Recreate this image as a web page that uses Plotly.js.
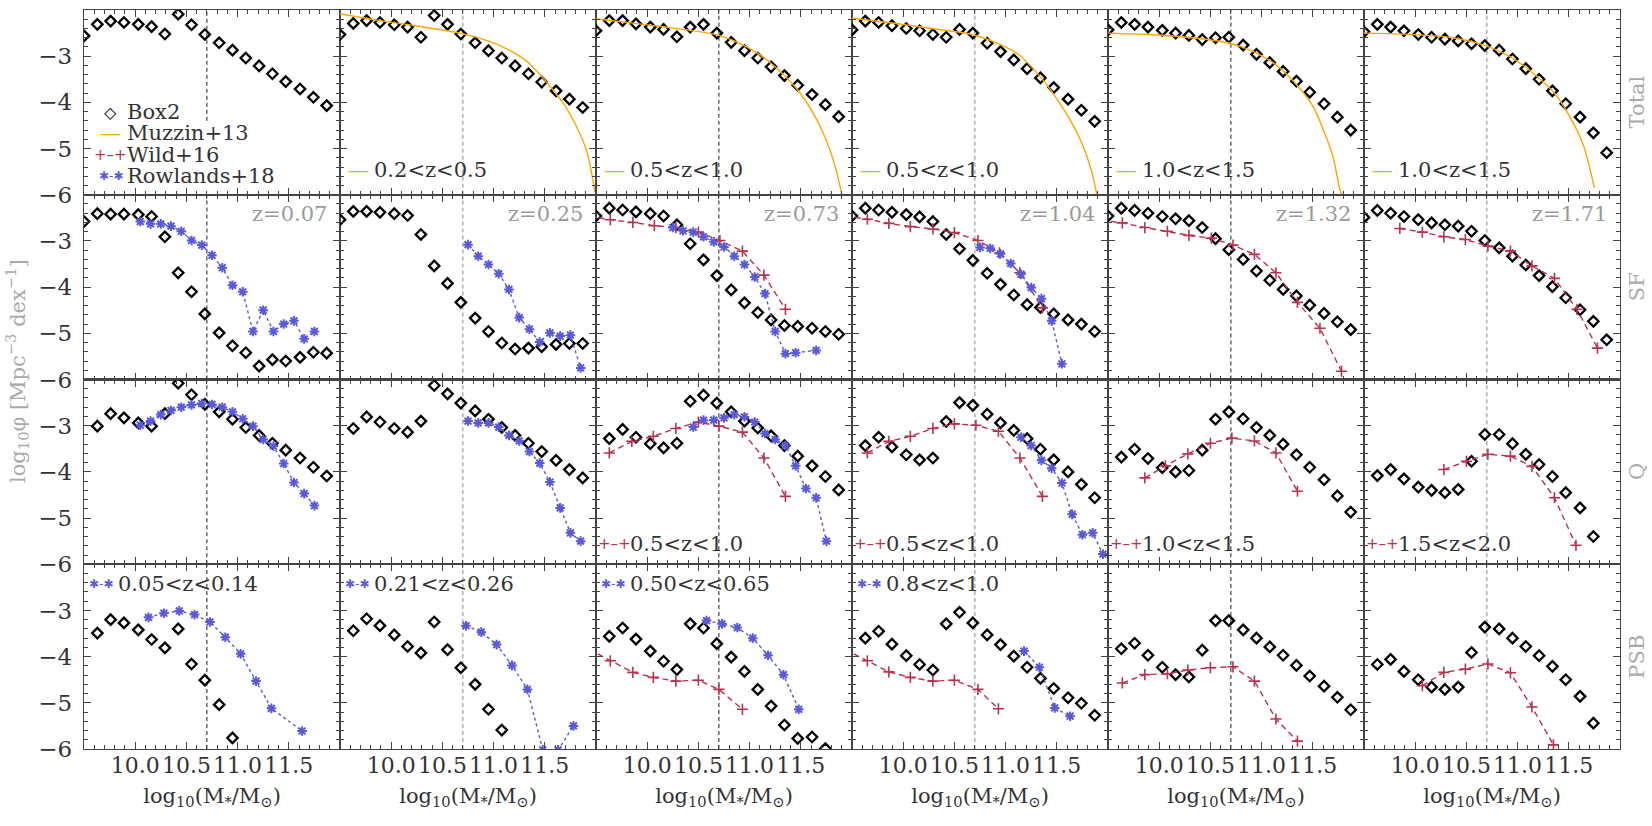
<!DOCTYPE html>
<html><head><meta charset="utf-8">
<script src="https://cdn.plot.ly/plotly-3.0.1.min.js"></script>
<style>html,body{margin:0;padding:0;background:#fff}#chart{width:1652px;height:826px}</style>
</head><body><div id="chart"></div><script>
// ---------------- data ----------------
const massBins = [9.50, 9.63, 9.76, 9.89, 10.03, 10.16, 10.29, 10.42, 10.55, 10.68, 10.82, 10.95, 11.08, 11.21, 11.34, 11.47, 11.61, 11.74, 11.87];
const massLimit = 10.7;
const xTickVals = [10.0, 10.5, 11.0, 11.5];
const xTickText = ['10.0', '10.5', '11.0', '11.5'];
const yTickVals = [-6, -5, -4, -3];
const rowLabels = ['Total', 'SF', 'Q', 'PSB'];
const snapshotLabels = ['z=0.07', 'z=0.25', 'z=0.73', 'z=1.04', 'z=1.32', 'z=1.71'];
const muzzinRanges = ['', '0.2<z<0.5', '0.5<z<1.0', '0.5<z<1.0', '1.0<z<1.5', '1.0<z<1.5'];
const wildRanges = ['', '', '0.5<z<1.0', '0.5<z<1.0', '1.0<z<1.5', '1.5<z<2.0'];
const rowlandsRanges = ['0.05<z<0.14', '0.21<z<0.26', '0.50<z<0.65', '0.8<z<1.0', '', ''];
const seriesNames = ['Box2', 'Muzzin+13', 'Wild+16', 'Rowlands+18'];

// Box2 (one list per column, values on massBins)
const box2Total = [
  [-2.56,-2.31,-2.24,-2.27,-2.31,-2.36,-2.52,-2.09,-2.32,-2.53,-2.71,-2.87,-3.04,-3.21,-3.38,-3.55,-3.71,-3.89,-4.07],
  [-2.53,-2.29,-2.23,-2.27,-2.32,-2.37,-2.59,-2.12,-2.31,-2.52,-2.71,-2.88,-3.04,-3.21,-3.38,-3.56,-3.75,-3.93,-4.11],
  [-2.45,-2.23,-2.23,-2.30,-2.37,-2.42,-2.58,-2.37,-2.31,-2.50,-2.70,-2.88,-3.04,-3.23,-3.42,-3.63,-3.83,-4.05,-4.31],
  [-2.43,-2.24,-2.27,-2.34,-2.40,-2.45,-2.53,-2.59,-2.42,-2.50,-2.72,-2.90,-3.08,-3.27,-3.47,-3.68,-3.93,-4.17,-4.41],
  [-2.43,-2.27,-2.31,-2.37,-2.44,-2.50,-2.55,-2.64,-2.60,-2.59,-2.76,-2.96,-3.14,-3.33,-3.54,-3.78,-4.03,-4.32,-4.60],
  [-2.47,-2.31,-2.37,-2.45,-2.53,-2.59,-2.63,-2.67,-2.73,-2.77,-2.87,-3.06,-3.27,-3.50,-3.75,-4.03,-4.32,-4.66,-5.09]
];
const box2SF = [
  [-2.58,-2.41,-2.42,-2.42,-2.43,-2.47,-2.91,-3.69,-4.10,-4.58,-4.99,-5.27,-5.42,-5.71,-5.57,-5.60,-5.52,-5.41,-5.43],
  [-2.54,-2.36,-2.36,-2.38,-2.41,-2.45,-2.86,-3.54,-3.92,-4.33,-4.67,-4.96,-5.21,-5.34,-5.32,-5.29,-5.24,-5.22,-5.22],
  [-2.46,-2.29,-2.33,-2.37,-2.41,-2.46,-2.65,-3.06,-3.41,-3.75,-4.06,-4.34,-4.55,-4.71,-4.83,-4.85,-4.89,-4.96,-5.02],
  [-2.46,-2.29,-2.33,-2.38,-2.43,-2.48,-2.58,-2.86,-3.17,-3.42,-3.70,-3.94,-4.17,-4.38,-4.44,-4.58,-4.71,-4.80,-4.96],
  [-2.46,-2.29,-2.34,-2.40,-2.47,-2.52,-2.56,-2.71,-2.95,-3.19,-3.40,-3.65,-3.85,-4.05,-4.19,-4.39,-4.57,-4.75,-4.92],
  [-2.49,-2.34,-2.40,-2.47,-2.54,-2.61,-2.65,-2.68,-2.79,-2.99,-3.15,-3.33,-3.52,-3.75,-3.99,-4.23,-4.49,-4.74,-5.14]
];
const box2Q = [
  [null,-3.01,-2.74,-2.83,-2.94,-3.01,-2.74,-2.08,-2.33,-2.54,-2.70,-2.86,-3.04,-3.21,-3.38,-3.53,-3.70,-3.90,-4.09],
  [null,-3.06,-2.81,-2.92,-3.06,-3.14,-2.90,-2.13,-2.31,-2.51,-2.68,-2.86,-3.04,-3.21,-3.38,-3.56,-3.75,-3.95,-4.13],
  [null,-3.28,-3.08,-3.25,-3.39,-3.48,-3.38,-2.47,-2.34,-2.51,-2.70,-2.90,-3.05,-3.22,-3.43,-3.66,-3.87,-4.10,-4.39],
  [null,-3.43,-3.25,-3.46,-3.63,-3.74,-3.70,-2.91,-2.50,-2.56,-2.75,-2.94,-3.10,-3.28,-3.51,-3.74,-4.00,-4.27,-4.56],
  [null,-3.68,-3.51,-3.71,-3.91,-4.00,-3.97,-3.53,-2.86,-2.70,-2.85,-3.04,-3.21,-3.40,-3.63,-3.90,-4.17,-4.52,-4.87],
  [null,-4.08,-3.95,-4.15,-4.33,-4.40,-4.45,-4.38,-3.77,-3.19,-3.19,-3.39,-3.62,-3.84,-4.10,-4.45,-4.78,-5.40,null]
];
const box2PSB = [
  [null,-3.49,-3.20,-3.27,-3.42,-3.63,-3.81,-3.40,-4.16,-4.51,-5.04,-5.76,null,null,null,null,null,null,null],
  [null,-3.44,-3.18,-3.33,-3.53,-3.78,-3.92,-3.25,-3.85,-4.24,-4.60,-5.14,-5.59,null,null,null,null,null,null],
  [null,-3.56,-3.38,-3.62,-3.88,-4.10,-4.28,-3.29,-3.38,-3.72,-4.01,-4.32,-4.71,-5.07,-5.48,-5.77,-5.74,-5.99,null],
  [null,-3.60,-3.45,-3.73,-3.98,-4.17,-4.29,-3.29,-3.04,-3.27,-3.53,-3.74,-3.99,-4.23,-4.47,-4.69,-4.89,-5.01,-5.27],
  [null,-3.83,-3.71,-3.97,-4.23,-4.39,-4.44,-3.86,-3.22,-3.22,-3.42,-3.60,-3.79,-3.97,-4.19,-4.42,-4.64,-4.88,-5.15],
  [null,-4.17,-4.06,-4.32,-4.50,-4.66,-4.71,-4.66,-3.91,-3.36,-3.40,-3.60,-3.78,-3.98,-4.21,-4.50,-4.86,-5.44,null]
];

// Muzzin+13 total mass functions (row "Total")
const muzzinX = [
  [],
  [9.50, 9.86, 10.23, 10.67, 10.96, 11.18, 11.33, 11.47, 11.58, 11.69, 11.80, 11.91, 11.99],
  [9.50, 9.88, 10.21, 10.54, 10.70, 10.86, 11.02, 11.19, 11.35, 11.48, 11.61, 11.74, 11.84, 11.90],
  [9.50, 9.99, 10.31, 10.67, 10.96, 11.13, 11.32, 11.45, 11.62, 11.75, 11.84, 11.89],
  [9.50, 9.89, 10.23, 10.69, 10.92, 11.16, 11.37, 11.51, 11.61, 11.70, 11.76, 11.78],
  [9.50, 9.87, 10.33, 10.67, 10.95, 11.19, 11.37, 11.50, 11.64, 11.75]
];
const muzzinY = [
  [],
  [-2.08, -2.22, -2.34, -2.50, -2.68, -2.90, -3.12, -3.44, -3.73, -4.05, -4.48, -5.06, -5.95],
  [-2.19, -2.29, -2.38, -2.48, -2.55, -2.68, -2.86, -3.12, -3.44, -3.76, -4.19, -4.77, -5.42, -5.99],
  [-2.18, -2.31, -2.41, -2.53, -2.76, -2.97, -3.40, -3.76, -4.34, -4.91, -5.49, -5.99],
  [-2.50, -2.53, -2.58, -2.72, -2.90, -3.22, -3.69, -4.12, -4.63, -5.20, -5.85, -6.00],
  [-2.50, -2.52, -2.59, -2.76, -3.04, -3.44, -3.83, -4.27, -4.91, -5.85]
];

// Wild+16 (rows SF, Q, PSB)
const wildSFx = [[], [],
  [9.43, 9.64, 9.86, 10.07, 10.28, 10.50, 10.71, 10.93, 11.14, 11.35],
  [9.43, 9.65, 9.86, 10.07, 10.29, 10.50, 10.73, 10.94, 11.14, 11.36],
  [9.43, 9.64, 9.86, 10.08, 10.29, 10.51, 10.72, 10.93, 11.14, 11.35, 11.57, 11.78],
  [9.85, 10.07, 10.28, 10.49, 10.71, 10.93, 11.14, 11.36, 11.58, 11.78]];
const wildSFy = [[], [],
  [-2.46, -2.54, -2.60, -2.67, -2.71, -2.81, -2.99, -3.22, -3.74, -4.48],
  [-2.46, -2.53, -2.62, -2.69, -2.74, -2.82, -2.99, -3.26, -3.69, -4.45],
  [-2.55, -2.61, -2.71, -2.79, -2.88, -2.94, -3.09, -3.29, -3.69, -4.33, -4.89, -5.82],
  [-2.73, -2.81, -2.91, -2.97, -3.11, -3.22, -3.54, -3.81, -4.48, -5.32]];
const wildQx = [[], [],
  [9.63, 9.85, 10.06, 10.28, 10.50, 10.70, 10.93, 11.14, 11.35],
  [9.65, 9.86, 10.07, 10.29, 10.50, 10.71, 10.93, 11.14, 11.36],
  [9.86, 10.06, 10.28, 10.50, 10.71, 10.93, 11.14, 11.35],
  [10.28, 10.50, 10.71, 10.93, 11.14, 11.36, 11.57]];
const wildQy = [[], [],
  [-3.59, -3.34, -3.23, -3.06, -2.92, -3.01, -3.14, -3.70, -4.53],
  [-3.59, -3.34, -3.23, -3.06, -2.96, -2.99, -3.12, -3.70, -4.53],
  [-4.13, -3.87, -3.61, -3.38, -3.27, -3.33, -3.59, -4.42],
  [-3.95, -3.77, -3.62, -3.66, -3.88, -4.56, -5.59]];
const wildPSBx = [[], [],
  [9.43, 9.64, 9.86, 10.06, 10.28, 10.50, 10.70, 10.93],
  [9.43, 9.65, 9.86, 10.07, 10.29, 10.50, 10.73, 10.93],
  [9.64, 9.86, 10.08, 10.28, 10.50, 10.72, 10.93, 11.14, 11.35],
  [10.07, 10.28, 10.49, 10.71, 10.93, 11.14, 11.35]];
const wildPSBy = [[], [],
  [-3.84, -4.09, -4.34, -4.45, -4.53, -4.51, -4.71, -5.14],
  [-3.84, -4.09, -4.33, -4.45, -4.53, -4.51, -4.71, -5.13],
  [-4.57, -4.39, -4.37, -4.29, -4.24, -4.22, -4.53, -5.35, -5.83],
  [-4.63, -4.34, -4.27, -4.16, -4.35, -5.09, -5.91]];

// Rowlands+18 (rows SF, Q, PSB)
const rowlandsSFx = [
  [10.05, 10.15, 10.25, 10.35, 10.45, 10.55, 10.65, 10.75, 10.85, 10.95, 11.05, 11.15, 11.25, 11.35, 11.45, 11.55, 11.65, 11.75],
  [10.75, 10.85, 10.95, 11.05, 11.15, 11.25, 11.35, 11.45, 11.55, 11.65, 11.75, 11.85],
  [10.25, 10.35, 10.45, 10.55, 10.65, 10.75, 10.85, 10.95, 11.05, 11.15, 11.25, 11.35, 11.45, 11.65],
  [10.75, 10.85, 10.95, 11.05, 11.15, 11.25, 11.35, 11.45, 11.55],
  [], []];
const rowlandsSFy = [
  [-2.58, -2.63, -2.63, -2.68, -2.79, -2.99, -3.09, -3.31, -3.58, -3.96, -4.10, -4.96, -4.50, -4.96, -4.80, -4.73, -5.12, -4.96],
  [-3.08, -3.33, -3.51, -3.71, -4.05, -4.66, -4.91, -5.19, -4.99, -5.06, -5.04, -5.75],
  [-2.71, -2.78, -2.81, -2.91, -3.02, -3.13, -3.33, -3.51, -3.78, -4.14, -4.96, -5.44, -5.42, -5.37],
  [-3.14, -3.16, -3.28, -3.49, -3.72, -4.01, -4.25, -4.73, -5.66],
  [], []];
const rowlandsQx = [
  [10.05, 10.15, 10.25, 10.35, 10.45, 10.55, 10.65, 10.75, 10.85, 10.95, 11.05, 11.15, 11.25, 11.35, 11.45, 11.55, 11.65, 11.75],
  [10.75, 10.85, 10.95, 11.05, 11.15, 11.25, 11.35, 11.45, 11.55, 11.65, 11.75, 11.85],
  [10.45, 10.55, 10.65, 10.75, 10.85, 10.95, 11.05, 11.15, 11.25, 11.35, 11.45, 11.55, 11.65, 11.75],
  [11.15, 11.25, 11.35, 11.45, 11.55, 11.65, 11.75, 11.85, 11.95],
  [], []];
const rowlandsQy = [
  [-2.99, -2.90, -2.76, -2.67, -2.60, -2.55, -2.52, -2.54, -2.60, -2.70, -2.85, -3.01, -3.30, -3.44, -3.82, -4.23, -4.47, -4.73],
  [-2.90, -2.94, -2.94, -3.03, -3.21, -3.33, -3.56, -3.81, -4.22, -4.78, -5.32, -5.50],
  [-3.03, -2.88, -2.88, -2.83, -2.76, -2.81, -2.92, -3.17, -3.30, -3.43, -3.87, -4.36, -4.56, -5.50],
  [-3.25, -3.43, -3.75, -3.92, -4.24, -4.92, -5.36, -5.32, -5.78],
  [], []];
const rowlandsPSBx = [
  [10.13, 10.28, 10.43, 10.58, 10.73, 10.88, 11.03, 11.18, 11.33, 11.63],
  [10.73, 10.88, 11.03, 11.18, 11.33, 11.48, 11.63, 11.78],
  [10.58, 10.73, 10.88, 11.03, 11.18, 11.33, 11.48],
  [11.18, 11.33, 11.48, 11.63],
  [], []];
const rowlandsPSBy = [
  [-3.15, -3.06, -3.01, -3.09, -3.25, -3.58, -3.94, -4.53, -5.12, -5.61],
  [-3.33, -3.47, -3.74, -4.19, -4.71, -6.02, -6.02, -5.50],
  [-3.22, -3.29, -3.37, -3.60, -3.97, -4.39, -5.14],
  [-3.88, -4.23, -5.11, -5.29],
  [], []];

// ---------------- styling / layout ----------------
const W = 1652, H = 826;
const plotL = 84, plotR = 1620, plotT = 10, plotB = 749;
const nRows = 4, nCols = 6;
const FONT = 'DejaVu Serif';
const SYMFONT = 'DejaVu Sans';
const C_WILD = '#b8324f', C_ROW = '#5a5ad6', C_MUZ = '#ffa500';
const esc = s => s.replace(/</g, '&lt;');

const box2Rows = [box2Total, box2SF, box2Q, box2PSB];
const wildXRows = [null, wildSFx, wildQx, wildPSBx];
const wildYRows = [null, wildSFy, wildQy, wildPSBy];
const rowXRows = [null, rowlandsSFx, rowlandsQx, rowlandsPSBx];
const rowYRows = [null, rowlandsSFy, rowlandsQy, rowlandsPSBy];

const traces = [];
const layout = {
  width: W, height: H,
  margin: {l: plotL, r: W - plotR, t: plotT, b: H - plotB, pad: 0},
  paper_bgcolor: '#fff', plot_bgcolor: '#fff',
  showlegend: false,
  font: {family: FONT, size: 21, color: '#333'},
  shapes: [], annotations: []
};

const note = (xa, ya, x, y, text, size, color, family, anchor) => layout.annotations.push({
  xref: xa, yref: ya, x: x, y: y, text: text, showarrow: false,
  xanchor: anchor || 'left', yanchor: 'middle',
  font: {family: family || FONT, size: size, color: color}
});

for (let r = 0; r < nRows; r++) {
  for (let c = 0; c < nCols; c++) {
    const k = r * nCols + c + 1;
    const xs = k === 1 ? '' : String(k);
    const xa = 'x' + xs, ya = 'y' + xs;
    const xAxis = {
      domain: [c / nCols, (c + 1) / nCols], range: [9.5, 12.0], anchor: ya,
      tickmode: 'array', tickvals: xTickVals, ticktext: xTickText,
      showticklabels: r === nRows - 1,
      ticks: 'inside', ticklen: 7, tickwidth: 1, tickcolor: '#444',
      minor: {dtick: 0.1, tick0: 9.5, ticks: 'inside', ticklen: 4, tickwidth: 1, tickcolor: '#444'},
      mirror: 'allticks', showline: true, linecolor: '#444', linewidth: 1.2,
      showgrid: false, zeroline: false, fixedrange: true,
      tickfont: {family: FONT, size: 22, color: '#333'},
      ticklabelstandoff: -4
    };
    if (r === nRows - 1) {
      xAxis.title = {text: 'log<sub>10</sub>(M<sub>*</sub>/M<sub>\u2299</sub>)', font: {family: FONT, size: 21, color: '#333'}, standoff: 11};
    }
    layout['xaxis' + xs] = xAxis;
    layout['yaxis' + xs] = {
      domain: [1 - (r + 1) / nRows, 1 - r / nRows], range: [-6, -2], anchor: xa,
      tickmode: 'array', tickvals: yTickVals,
      showticklabels: c === 0,
      ticks: 'inside', ticklen: 7, tickwidth: 1, tickcolor: '#444',
      minor: {dtick: 0.2, tick0: -6, ticks: 'inside', ticklen: 4, tickwidth: 1, tickcolor: '#444'},
      mirror: 'allticks', showline: true, linecolor: '#444', linewidth: 1.2,
      showgrid: false, zeroline: false, fixedrange: true,
      tickfont: {family: FONT, size: 23, color: '#333'},
      ticklabelstandoff: 6
    };

    // mass-limit dashed line
    const lim = (r === 0 && c === 0)
      ? {yref: ya, y0: -4.4, y1: -2}
      : {yref: ya + ' domain', y0: 0, y1: 1};
    layout.shapes.push(Object.assign({
      type: 'line', xref: xa, x0: massLimit, x1: massLimit, layer: 'below',
      line: {color: c % 2 === 0 ? '#222' : '#888', width: 1, dash: '4px,3px'}
    }, lim));

    // Box2
    traces.push({
      x: massBins, y: box2Rows[r][c], xaxis: xa, yaxis: ya, type: 'scatter', mode: 'markers',
      name: seriesNames[0], cliponaxis: true,
      marker: {symbol: 'diamond-open', size: 8, color: '#000', line: {width: 2.3, color: '#000'}}
    });
    // Muzzin
    if (r === 0 && muzzinX[c].length) {
      traces.push({
        x: muzzinX[c], y: muzzinY[c], xaxis: xa, yaxis: ya, type: 'scatter', mode: 'lines',
        name: seriesNames[1], line: {color: C_MUZ, width: 1.4, shape: 'spline', smoothing: 0.8}
      });
    }
    // Wild
    if (r > 0 && wildXRows[r][c].length) {
      traces.push({
        x: wildXRows[r][c], y: wildYRows[r][c], xaxis: xa, yaxis: ya, type: 'scatter', mode: 'lines+markers',
        name: seriesNames[2], line: {color: C_WILD, width: 1.4, dash: '6px,4px'},
        marker: {symbol: 'cross-thin-open', size: 8, color: C_WILD, line: {width: 1.6, color: C_WILD}}
      });
    }
    // Rowlands
    if (r > 0 && rowXRows[r][c].length) {
      traces.push({
        x: rowXRows[r][c], y: rowYRows[r][c], xaxis: xa, yaxis: ya, type: 'scatter', mode: 'lines+markers',
        name: seriesNames[3], line: {color: C_ROW, width: 1.4, dash: '3px,3px'},
        marker: {symbol: 'asterisk-open', size: 8, color: C_ROW, line: {width: 2, color: C_ROW}}
      });
    }

    // per-panel texts
    if (r === 0 && muzzinRanges[c]) {
      note(xa, ya, 9.68, -5.47, '\u2014', 21, C_MUZ, FONT, 'center');
      note(xa, ya, 9.81, -5.47, esc(muzzinRanges[c]), 21, '#333');
    }
    if (r === 1) {
      note(xa, ya, 11.89, -2.42, snapshotLabels[c], 21, '#9a9a9a', FONT, 'right');
    }
    if (r === 2 && wildRanges[c]) {
      note(xa, ya, 9.68, -5.57, '+\u2013+', 15, C_WILD, SYMFONT, 'center');
      note(xa, ya, 9.81, -5.57, esc(wildRanges[c]), 21, '#333');
    }
    if (r === 3 && rowlandsRanges[c]) {
      note(xa, ya, 9.67, -2.43, '\u2731-\u2731', 12, C_ROW, SYMFONT, 'center');
      note(xa, ya, 9.81, -2.43, esc(rowlandsRanges[c]), 21, '#333');
    }
  }
}

// Legend of the first panel (symbol + label)
const legendSymbols = ['\u25C7', '\u2014', '+\u2013+', '\u2731-\u2731'];
const legendSymColors = ['#000', C_MUZ, C_WILD, C_ROW];
const legendSymSizes = [16, 21, 15, 12];
const legendSymFonts = [SYMFONT, FONT, SYMFONT, SYMFONT];
const legendY = [-4.21, -4.67, -5.13, -5.60];
seriesNames.forEach((nm, i) => {
  note('x', 'y', 9.76, legendY[i], legendSymbols[i], legendSymSizes[i], legendSymColors[i], legendSymFonts[i], 'center');
  note('x', 'y', 9.90, legendY[i], nm, 21, '#333');
});

// Row labels on the right
rowLabels.forEach((lab, r) => {
  layout.annotations.push({xref: 'paper', yref: 'paper', x: (1637 - plotL) / (plotR - plotL),
    y: 1 - (r + 0.5) / nRows, text: lab, textangle: -90, showarrow: false,
    xanchor: 'center', yanchor: 'middle', font: {family: FONT, size: 21, color: '#aaaaaa'}});
});
// y-axis title
layout.annotations.push({xref: 'paper', yref: 'paper', x: (17 - plotL) / (plotR - plotL),
  y: (plotB - 371) / (plotB - plotT), text: 'log<sub>10</sub>\u03C6 [Mpc<sup>\u22123</sup> dex<sup>\u22121</sup>]',
  textangle: -90, showarrow: false, xanchor: 'center', yanchor: 'middle',
  font: {family: FONT, size: 21, color: '#aaaaaa'}});

Plotly.newPlot('chart', traces, layout, {staticPlot: true, displayModeBar: false});
</script></body></html>
